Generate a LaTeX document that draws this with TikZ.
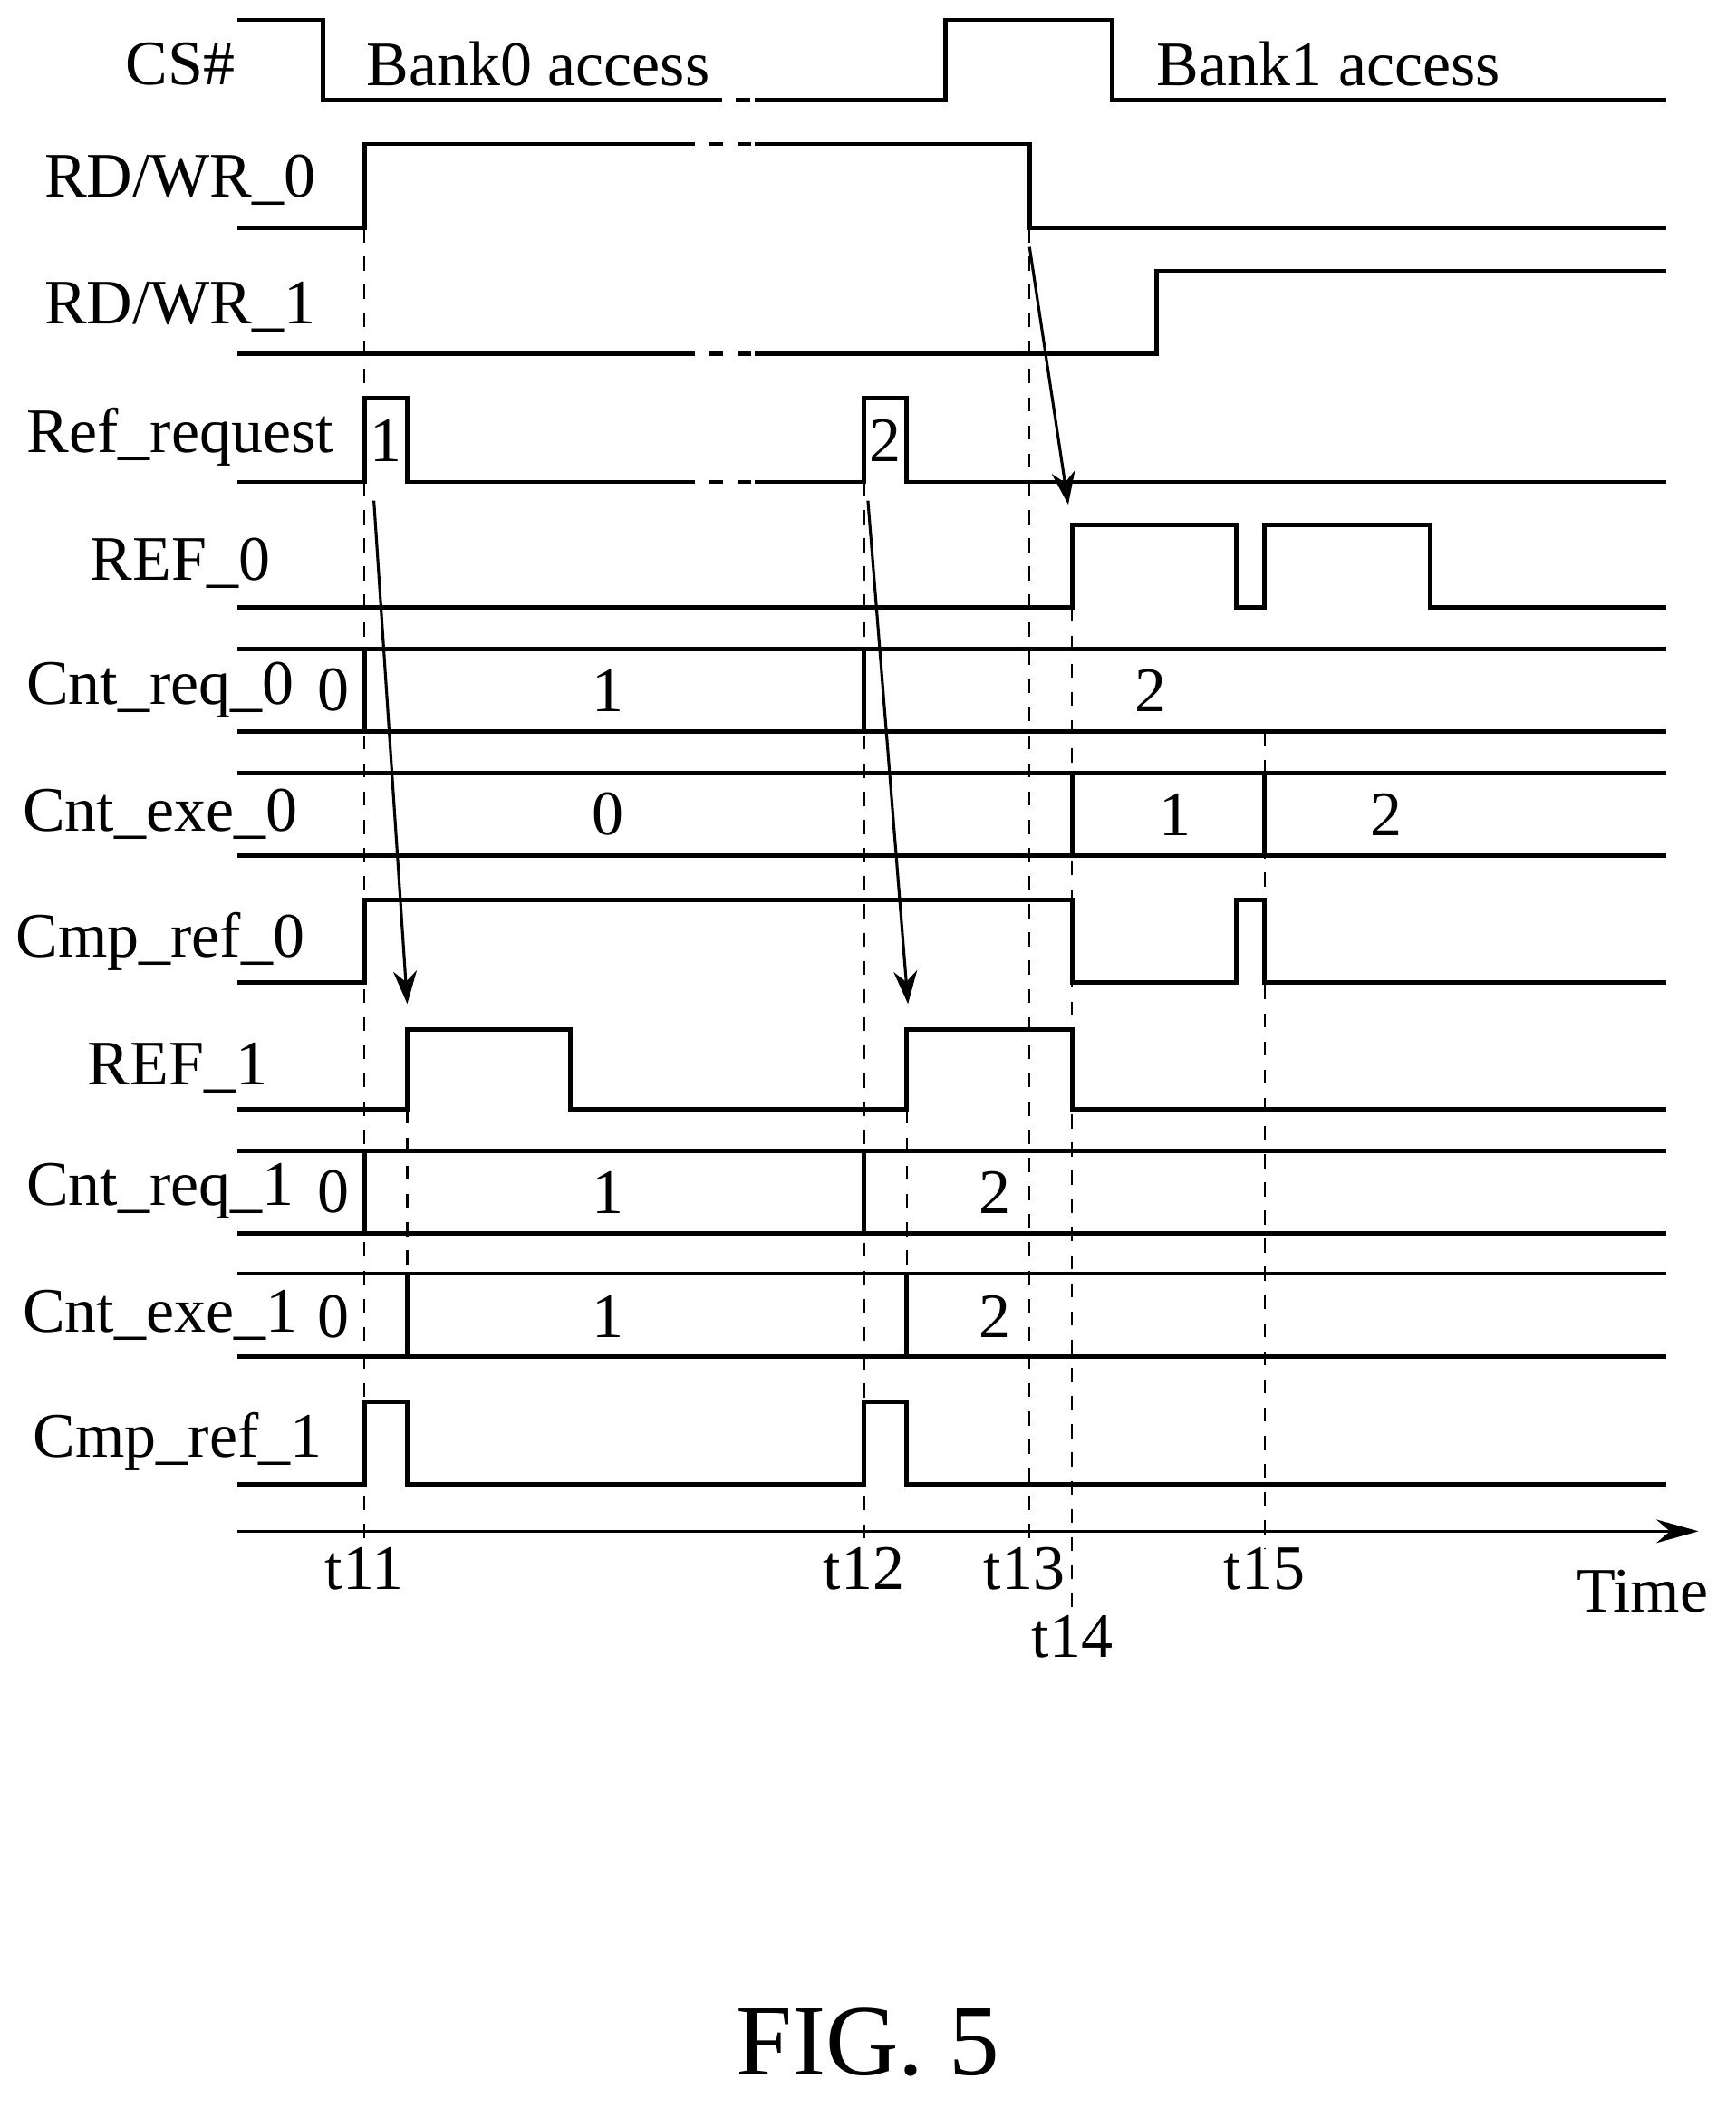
\documentclass[tikz,border=0pt]{standalone}
\usepackage{fontspec}
\setmainfont{Liberation Serif}
\usetikzlibrary{arrows.meta}
\begin{document}
\begin{tikzpicture}[x=0.01cm,y=-0.01cm,line width=0.9pt,
    sig/.style={font=\fontsize{13.5}{14}\selectfont},
    val/.style={font=\fontsize{13.5}{14}\selectfont},
    guide/.style={dashed,line width=0.4pt},
    cause/.style={-{Stealth[length=7pt,width=5pt]},line width=0.6pt}]
    \useasboundingbox (0,0) rectangle (1300,1579);

    % signal names
    \node[sig] (cs) at (135,48) {CS\#};
    \node[sig] (rw0) at (135,135) {RD/WR\_0};
    \node[sig] (rw1) at (135,230) {RD/WR\_1};
    \node[sig] (req) at (135,327) {Ref\_request};
    \node[sig] (ref0) at (135,422) {REF\_0};
    \node[sig] (cq0) at (120,517) {Cnt\_req\_0};
    \node[sig] (ce0) at (120,610) {Cnt\_exe\_0};
    \node[sig] (cmp0) at (120,705) {Cmp\_ref\_0};
    \node[sig] (ref1) at (133,800) {REF\_1};
    \node[sig] (cq1) at (120,892) {Cnt\_req\_1};
    \node[sig] (ce1) at (120,985) {Cnt\_exe\_1};
    \node[sig] (cmp1) at (133,1080) {Cmp\_ref\_1};

    % CS#
    \draw (178,15) -- (242,15) -- (242,75) -- (530,75);
    \draw[dashed] (530,75) -- (565,75);
    \draw (565,75) -- (708,75) -- (708,15) -- (833,15) -- (833,75) -- (1248,75);
    \node[val] (bank0) at (403,48) {Bank0 access};
    \node[val] (bank1) at (995,48) {Bank1 access};

    % RD/WR_0
    \draw (178,171) -- (273,171) -- (273,108) -- (510,108);
    \draw[dashed] (510,108) -- (565,108);
    \draw (565,108) -- (771,108) -- (771,171) -- (1248,171);

    % RD/WR_1
    \draw (178,265) -- (510,265);
    \draw[dashed] (510,265) -- (565,265);
    \draw (565,265) -- (866,265) -- (866,203) -- (1248,203);

    % Ref_request
    \draw (178,361) -- (273,361) -- (273,298) -- (305,298) -- (305,361) -- (510,361);
    \draw[dashed] (510,361) -- (565,361);
    \draw (565,361) -- (647,361) -- (647,298) -- (679,298) -- (679,361) -- (1248,361);
    \node[val] (p1) at (289,330) {1};
    \node[val] (p2) at (663,330) {2};

    % REF_0
    \draw (178,455) -- (803,455) -- (803,393) -- (926,393) -- (926,455) -- (947,455)
        -- (947,393) -- (1071,393) -- (1071,455) -- (1248,455);

    % Cnt_req_0
    \draw (178,486) -- (1248,486);
    \draw (178,548) -- (1248,548);
    \draw (273,486) -- (273,548);
    \draw (647,486) -- (647,548);
    \node[val] (cq0a) at (250,517) {0};
    \node[val] (cq0b) at (455,517) {1};
    \node[val] (cq0c) at (862,517) {2};

    % Cnt_exe_0
    \draw (178,579) -- (1248,579);
    \draw (178,641) -- (1248,641);
    \draw (803,579) -- (803,641);
    \draw (947,579) -- (947,641);
    \node[val] (ce0a) at (455,610) {0};
    \node[val] (ce0b) at (880,610) {1};
    \node[val] (ce0c) at (1038,610) {2};

    % Cmp_ref_0
    \draw (178,736) -- (273,736) -- (273,674) -- (803,674) -- (803,736) -- (926,736)
        -- (926,674) -- (947,674) -- (947,736) -- (1248,736);

    % REF_1
    \draw (178,831) -- (305,831) -- (305,771) -- (427,771) -- (427,831) -- (679,831)
        -- (679,771) -- (803,771) -- (803,831) -- (1248,831);

    % Cnt_req_1
    \draw (178,862) -- (1248,862);
    \draw (178,924) -- (1248,924);
    \draw (273,862) -- (273,924);
    \draw (647,862) -- (647,924);
    \node[val] (cq1a) at (250,893) {0};
    \node[val] (cq1b) at (455,893) {1};
    \node[val] (cq1c) at (745,893) {2};

    % Cnt_exe_1
    \draw (178,954) -- (1248,954);
    \draw (178,1016) -- (1248,1016);
    \draw (305,954) -- (305,1016);
    \draw (679,954) -- (679,1016);
    \node[val] (ce1a) at (250,986) {0};
    \node[val] (ce1b) at (455,986) {1};
    \node[val] (ce1c) at (745,986) {2};

    % Cmp_ref_1
    \draw (178,1112) -- (273,1112) -- (273,1050) -- (305,1050) -- (305,1112) -- (647,1112)
        -- (647,1050) -- (679,1050) -- (679,1112) -- (1248,1112);

    % time axis
    \coordinate (t0) at (178,1147);
    \coordinate (tend) at (1272,1147);
    \draw[-{Stealth[length=9pt,width=5pt]},line width=0.6pt] (t0) -- (tend);
    \node[val] (t11) at (273,1175) {t11};
    \node[val] (t12) at (647,1175) {t12};
    \node[val] (t13) at (767,1175) {t13};
    \node[val] (t14) at (803,1226) {t14};
    \node[val] (t15) at (947,1175) {t15};
    \node[val] (time) at (1230,1192) {Time};

    % guides
    \draw[guide] (273,171) -- (273,1160);
    \draw[guide] (305,831) -- (305,954);
    \draw[guide] (647,361) -- (647,1160);
    \draw[guide] (679,831) -- (679,954);
    \draw[guide] (771,171) -- (771,1160);
    \draw[guide] (803,455) -- (803,1205);
    \draw[guide] (947,548) -- (947,1160);

    % cause arrows
    \coordinate (a1s) at (771,185);  \coordinate (a1e) at (800,378);
    \coordinate (a2s) at (280,375);  \coordinate (a2e) at (305,752);
    \coordinate (a3s) at (650,375);  \coordinate (a3e) at (680,752);
    \draw[cause] (a1s) -- (a1e);
    \draw[cause] (a2s) -- (a2e);
    \draw[cause] (a3s) -- (a3e);

    \node[font=\fontsize{21.5}{24}\selectfont] (fig) at (650,1530) {FIG. 5};
\end{tikzpicture}
\end{document}
